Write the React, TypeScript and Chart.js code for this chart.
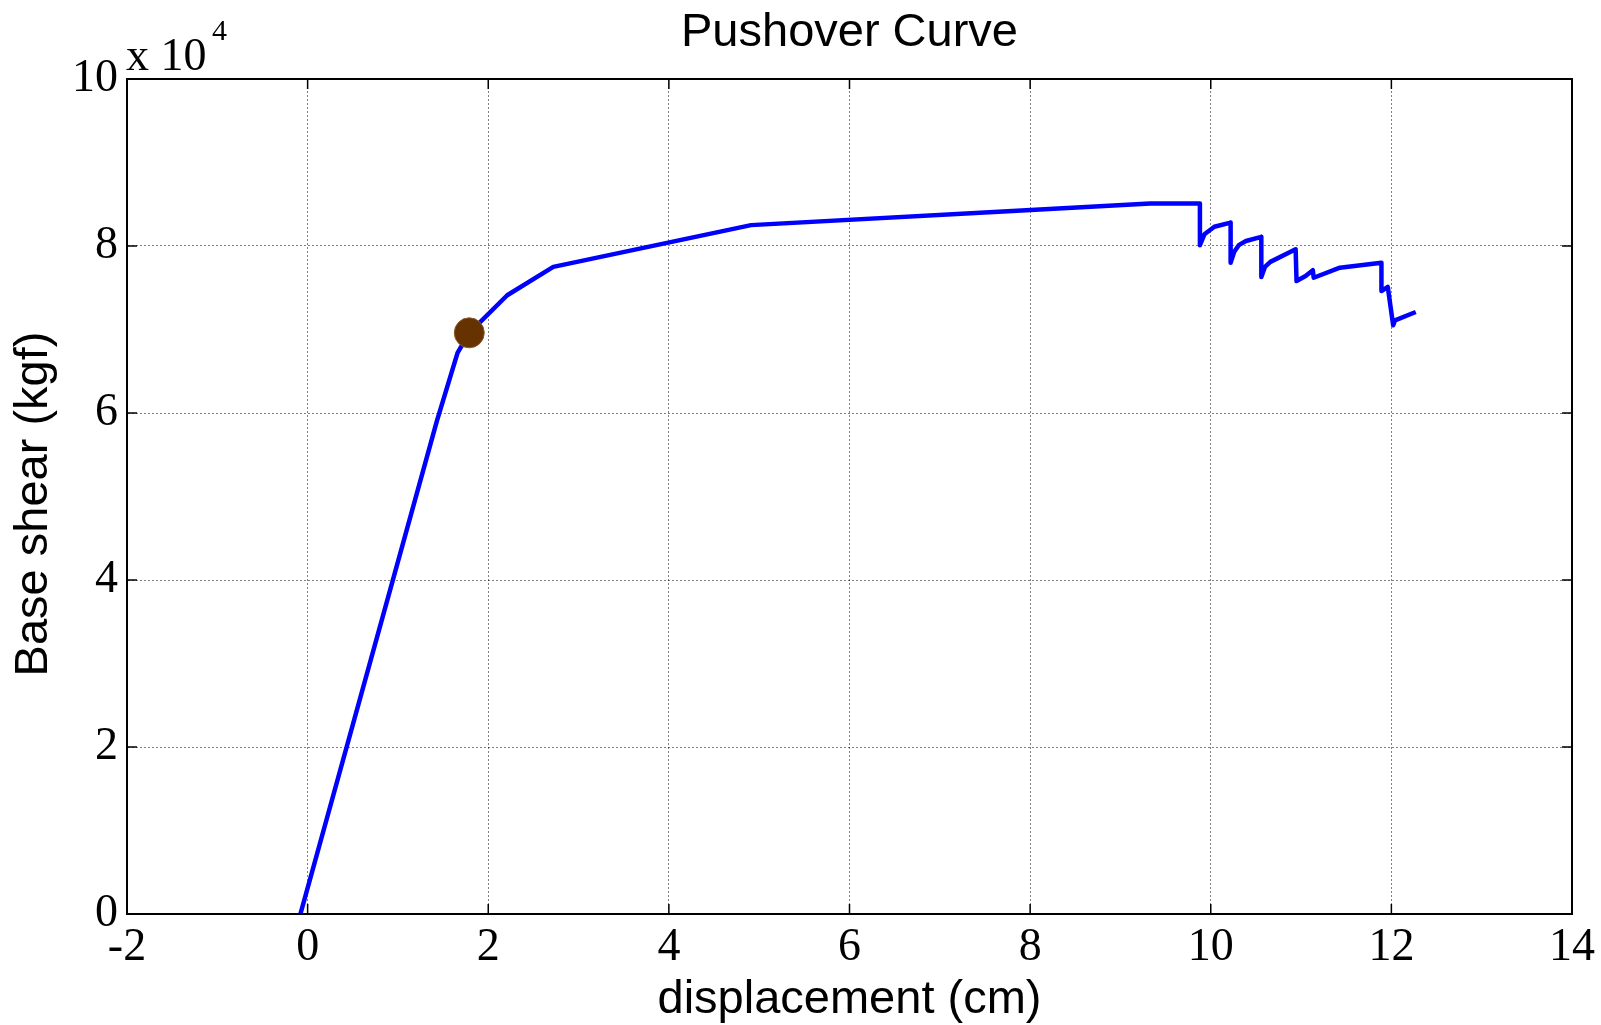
import React, { useEffect, useRef } from "react";
import { Chart, registerables } from "chart.js";

Chart.register(...registerables);

// Displacement (cm)
const displacement: number[] = [
  -0.08, 1.43, 1.66, 1.79, 2.21, 2.72, 4.91, 7.65, 9.33, 9.88, 9.88, 9.93, 10.04, 10.22,
  10.22, 10.26, 10.31, 10.39, 10.56, 10.56, 10.60, 10.66, 10.94, 10.95, 11.05, 11.13,
  11.14, 11.43, 11.89, 11.89, 11.96, 12.02, 12.04, 12.27,
];
// Base shear (kgf)
const baseShear: number[] = [
  0, 59000, 67200, 69600, 74100, 77500, 82500, 84100, 85100, 85100, 80100, 81400, 82300,
  82800, 78000, 79300, 80100, 80600, 81100, 76300, 77500, 78100, 79600, 75800, 76400,
  77100, 76200, 77400, 78000, 74600, 75100, 70500, 71100, 72100,
];
// Performance point marker
const markerX: number[] = [1.79];
const markerY: number[] = [69600];

const xTicks: number[] = [-2, 0, 2, 4, 6, 8, 10, 12, 14];
const yTicks: number[] = [0, 20000, 40000, 60000, 80000, 100000];

const chartTitle = "Pushover Curve";
const xTitle = "displacement (cm)";
const yTitle = "Base shear (kgf)";

const SANS = "'Liberation Sans', Arial, sans-serif";
const SERIF = "'Liberation Serif', 'Times New Roman', serif";

const decorPlugin = {
  id: "decor",
  afterDraw(chart: any) {
    const { ctx, chartArea } = chart;
    const { left, right, top, bottom } = chartArea;
    const xs = chart.scales.x;
    const ys = chart.scales.y;
    ctx.save();
    // box
    ctx.strokeStyle = "#000";
    ctx.lineWidth = 2;
    ctx.setLineDash([]);
    ctx.strokeRect(left, top, right - left, bottom - top);
    // inward ticks
    ctx.lineWidth = 1.5;
    const tl = 10;
    xTicks.forEach((v) => {
      const px = xs.getPixelForValue(v);
      ctx.beginPath();
      ctx.moveTo(px, bottom);
      ctx.lineTo(px, bottom - tl);
      ctx.moveTo(px, top);
      ctx.lineTo(px, top + tl);
      ctx.stroke();
    });
    yTicks.forEach((v) => {
      const py = ys.getPixelForValue(v);
      ctx.beginPath();
      ctx.moveTo(left, py);
      ctx.lineTo(left + tl, py);
      ctx.moveTo(right, py);
      ctx.lineTo(right - tl, py);
      ctx.stroke();
    });
    // title
    ctx.fillStyle = "#000";
    ctx.font = `47px ${SANS}`;
    ctx.textAlign = "center";
    ctx.textBaseline = "alphabetic";
    ctx.fillText(chartTitle, (left + right) / 2, 46);
    // x title
    ctx.fillText(xTitle, (left + right) / 2, 1013);
    // y title
    ctx.save();
    ctx.translate(47, 504);
    ctx.rotate(-Math.PI / 2);
    ctx.fillText(yTitle, 0, 0);
    ctx.restore();
    // exponent label
    ctx.font = `46px ${SERIF}`;
    ctx.textAlign = "left";
    ctx.fillText("x 10", 126, 70);
    ctx.font = `30px ${SERIF}`;
    ctx.fillText("4", 212, 40);
    ctx.restore();
  },
};

export default function App() {
  const ref = useRef<HTMLCanvasElement | null>(null);
  useEffect(() => {
    if (!ref.current) return;
    const lineData = displacement.map((x, i) => ({ x, y: baseShear[i] }));
    const markerData = markerX.map((x, i) => ({ x, y: markerY[i] }));
    const chart = new Chart(ref.current, {
      type: "scatter",
      data: {
        datasets: [
          {
            data: markerData,
            pointRadius: 15,
            pointBackgroundColor: "#663300",
            pointBorderColor: "#8a5a2e",
            pointBorderWidth: 1,
            showLine: false,
          },
          {
            data: lineData,
            showLine: true,
            borderColor: "#0000ff",
            borderWidth: 4.5,
            borderJoinStyle: "round",
            pointRadius: 0,
            fill: false,
            tension: 0,
          },
        ],
      },
      options: {
        responsive: false,
        animation: false,
        layout: { padding: { left: 0, top: 79, right: 27, bottom: 0 } },
        plugins: {
          legend: { display: false },
          tooltip: { enabled: false },
          title: { display: false },
        },
        scales: {
          x: {
            type: "linear",
            min: -2,
            max: 14,
            afterFit: (s: any) => {
              s.height = 111;
            },
            afterBuildTicks: (s: any) => {
              s.ticks = xTicks.map((v) => ({ value: v }));
            },
            ticks: {
              font: { family: SERIF, size: 46 },
              color: "#000",
              padding: 6,
              maxRotation: 0,
              autoSkip: false,
            },
            grid: {
              color: "rgba(0,0,0,0.5)",
              lineWidth: 1,
              drawTicks: false,
            },
            border: { display: true, color: "#000", width: 2, dash: [2, 2] },
          },
          y: {
            type: "linear",
            min: 0,
            max: 100000,
            afterFit: (s: any) => {
              s.width = 127;
            },
            afterBuildTicks: (s: any) => {
              s.ticks = yTicks.map((v) => ({ value: v }));
            },
            ticks: {
              font: { family: SERIF, size: 46 },
              color: "#000",
              padding: 9,
              autoSkip: false,
              callback: (v: any) => String(Number(v) / 10000),
            },
            grid: {
              color: "rgba(0,0,0,0.5)",
              lineWidth: 1,
              drawTicks: false,
            },
            border: { display: true, color: "#000", width: 2, dash: [2, 2] },
          },
        },
      },
      plugins: [decorPlugin],
    });
    return () => chart.destroy();
  }, []);
  return (
    <canvas
      ref={ref}
      width={1601}
      height={1025}
      style={{ position: "fixed", left: 0, top: 0, display: "block", background: "#fff" }}
    />
  );
}
